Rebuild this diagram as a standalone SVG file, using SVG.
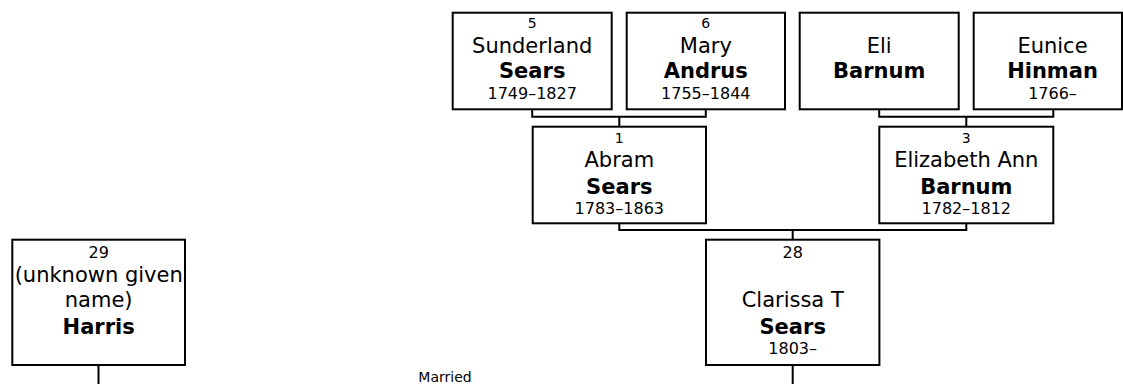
<svg xmlns="http://www.w3.org/2000/svg" width="1123" height="384" viewBox="0 0 1123 384">
<style>
.box{fill:#fff;stroke:#000;stroke-width:2}
text{font-family:"DejaVu Sans",Verdana,sans-serif;fill:#000;text-anchor:middle}
.num{font-size:14px}
.bnum{font-size:16px}
.nm{font-size:21px}
.sn{font-size:21px;font-weight:bold}
.dt{font-size:16px}
.lbl{font-size:14px}
#connectors path{fill:none;stroke:#000;stroke-width:2}
</style>
<rect x="0" y="0" width="1123" height="384" fill="#fff"/>
<g id="connectors">
<path d="M532.2,109.3 V116.7 H705.8 V109.3 M619.3,116.7 V126.7"/>
<path d="M879.2,109.3 V116.7 H1053.3 V109.3 M966.3,116.7 V126.7"/>
<path d="M619.3,223.3 V230 H966.3 V223.3 M792.7,230 V239.7"/>
<path d="M792.7,365 V384"/>
<path d="M98.5,365 V384"/>
</g>
<text class="lbl" x="445" y="381.7">Married</text>
<g id="p5">
<rect class="box" x="452.7" y="12.7" width="159" height="96.6"/>
<text class="num" x="532.2" y="28.3">5</text>
<text class="nm" x="532.2" y="53.3">Sunderland</text>
<text class="sn" x="532.2" y="78.3">Sears</text>
<text class="dt" x="532.2" y="99">1749–1827</text>
</g>
<g id="p6">
<rect class="box" x="626.7" y="12.7" width="158.3" height="96.6"/>
<text class="num" x="705.8" y="28.3">6</text>
<text class="nm" x="705.8" y="53.3">Mary</text>
<text class="sn" x="705.8" y="78.3">Andrus</text>
<text class="dt" x="705.8" y="99">1755–1844</text>
</g>
<g id="pEli">
<rect class="box" x="799.7" y="12.7" width="159" height="96.6"/>
<text class="nm" x="879.2" y="53.3">Eli</text>
<text class="sn" x="879.2" y="78.3">Barnum</text>
</g>
<g id="pEunice">
<rect class="box" x="973.7" y="12.7" width="148.3" height="96.6"/>
<text class="nm" x="1052.5" y="53.3">Eunice</text>
<text class="sn" x="1052.5" y="78.3">Hinman</text>
<text class="dt" x="1052.5" y="99">1766–</text>
</g>
<g id="p1">
<rect class="box" x="532.7" y="126.7" width="173.3" height="96.6"/>
<text class="num" x="619.3" y="143.3">1</text>
<text class="nm" x="619.3" y="167">Abram</text>
<text class="sn" x="619.3" y="194">Sears</text>
<text class="dt" x="619.3" y="214">1783–1863</text>
</g>
<g id="p3">
<rect class="box" x="879.3" y="126.7" width="174" height="96.6"/>
<text class="num" x="966.3" y="143.3">3</text>
<text class="nm" x="966.3" y="167">Elizabeth Ann</text>
<text class="sn" x="966.3" y="194">Barnum</text>
<text class="dt" x="966.3" y="214">1782–1812</text>
</g>
<g id="p28">
<rect class="box" x="706" y="239.7" width="173.4" height="125.3"/>
<text class="bnum" x="792.7" y="257.7">28</text>
<text class="nm" x="792.7" y="307.3">Clarissa T</text>
<text class="sn" x="792.7" y="334.3">Sears</text>
<text class="dt" x="792.7" y="354.3">1803–</text>
</g>
<g id="p29">
<rect class="box" x="12.3" y="239.7" width="172.7" height="125.3"/>
<text class="bnum" x="98.7" y="257.7">29</text>
<text class="nm" x="98.7" y="282">(unknown given</text>
<text class="nm" x="98.7" y="306.5">name)</text>
<text class="sn" x="98.7" y="333.5">Harris</text>
</g>
</svg>
